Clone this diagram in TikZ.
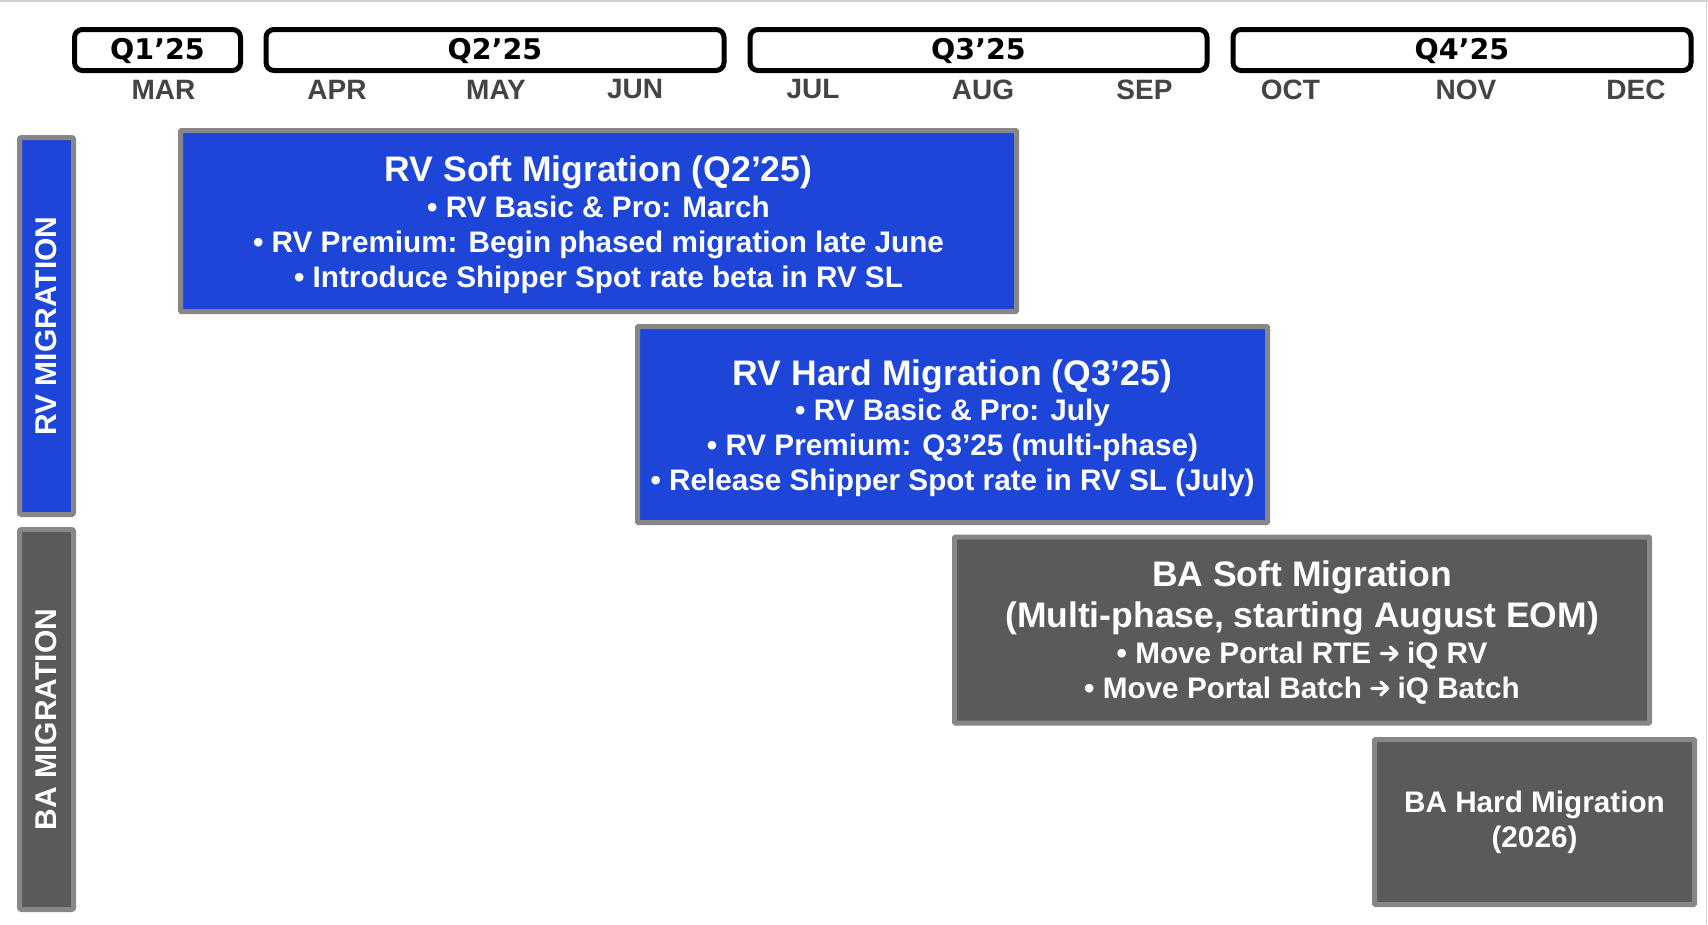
\documentclass[tikz,border=0pt]{standalone}
\usepackage{fontspec}
\setmainfont{Liberation Sans}
\newfontfamily\QuarterFnt{DejaVu Sans}
\definecolor{rvblue}{HTML}{1D46D8}
\definecolor{bagray}{HTML}{5A5A5A}
\definecolor{edgegray}{HTML}{878787}
\definecolor{monthgray}{HTML}{444444}
\definecolor{framegray}{HTML}{D0D0D0}
\newcommand\TitleFnt{\fontsize{35.5}{41}\selectfont\bfseries}
\newcommand\BodyFnt{\fontsize{29.7}{35}\selectfont\bfseries}
\newcommand\TopStrut[1]{\rule{0pt}{#1pt}}
\newcommand\Arr{\tikz[baseline=0pt,x=1pt,y=1pt]{\draw[white,line width=3.2,line cap=round,line join=round]
  (0,10) -- (16,10) (9,3.5) -- (16,10) -- (9,16.5);}}
\begin{document}
\begin{tikzpicture}[x=1pt,y=-1pt,
  quarter/.style={draw=black, line width=5, rounded corners=8, fill=white,
    minimum height=41, inner sep=0, text height=20.4pt, text depth=1pt,
    font=\QuarterFnt\bfseries\fontsize{28.5}{34}\selectfont},
  month/.style={text=monthgray, inner sep=0, font=\fontsize{28}{34}\selectfont\bfseries},
  lane/.style={draw=edgegray, line width=5, rounded corners=2, inner sep=0,
    text=white, rotate=90, font=\fontsize{30}{36}\selectfont\bfseries},
  task/.style={draw=edgegray, line width=5, rounded corners=1, inner sep=0,
    text=white, align=center, font=\BodyFnt},
  frameline/.style={draw=framegray, line width=1.5}]
\useasboundingbox (0,0) rectangle (1708,924);
\fill[white] (0,0) rectangle (1708,924);
\draw[frameline] (0,0.75) -- (1708,0.75);
\draw[frameline] (1706.5,0) -- (1706.5,924);
% quarters
\node[quarter, minimum width=166] (q1) at (157.5,50) {Q1’25};
\node[quarter, minimum width=458] (q2) at (495,50) {Q2’25};
\node[quarter, minimum width=457] (q3) at (978.5,50) {Q3’25};
\node[quarter, minimum width=458] (q4) at (1462,50) {Q4’25};
% months
\node[month] (mar) at (163.5,89.5) {MAR};
\node[month] (apr) at (337,89.5) {APR};
\node[month] (may) at (496,89.5) {MAY};
\node[month] (jun) at (635,89.5) {JUN};
\node[month] (jul) at (813,89.5) {JUL};
\node[month] (aug) at (983,89.5) {AUG};
\node[month] (sep) at (1144.5,89.5) {SEP};
\node[month] (oct) at (1290.5,89.5) {OCT};
\node[month] (nov) at (1466,89.5) {NOV};
\node[month] (dec) at (1636,89.5) {DEC};
% lanes
\node[lane, fill=rvblue, minimum width=377, minimum height=54] (rvlane) at (46.5,326) {RV MIGRATION};
\node[lane, fill=bagray, minimum width=380, minimum height=54] (balane) at (46.5,719.5) {BA MIGRATION};
% tasks
\node[task, fill=rvblue, minimum width=836, minimum height=181] (rvsoft) at (598.5,221)
  {\TopStrut{32.7}\TitleFnt RV Soft Migration (Q2’25)\\[0.7pt]
   • RV Basic \& Pro: March\\
   • RV Premium: Begin phased migration late June\\
   • Introduce Shipper Spot rate beta in RV SL};
\node[task, fill=rvblue, minimum width=630, minimum height=196] (rvhard) at (952.5,424.5)
  {\TopStrut{33.2}\TitleFnt RV Hard Migration (Q3’25)\\[0.7pt]
   • RV Basic \& Pro: July\\
   • RV Premium: Q3’25 (multi-phase)\\
   • Release Shipper Spot rate in RV SL (July)};
\node[task, fill=bagray, minimum width=695, minimum height=186] (basoft) at (1302,630)
  {\TopStrut{31}\TitleFnt BA Soft Migration\\[6pt]
   \TitleFnt (Multi-phase, starting August EOM)\\[0.7pt]
   • Move Portal RTE \Arr{} iQ RV\\
   • Move Portal Batch \Arr{} iQ Batch};
\node[task, fill=bagray, minimum width=320, minimum height=165] (bahard) at (1534.5,822)
  {BA Hard Migration\\ (2026)};
\end{tikzpicture}
\end{document}
